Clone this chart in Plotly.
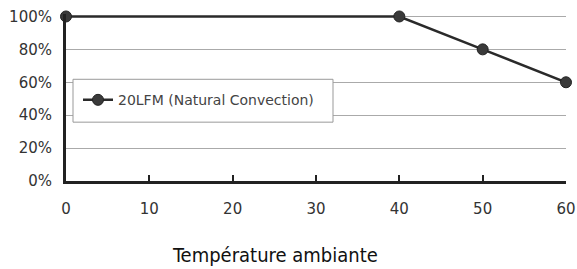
import plotly.graph_objects as go

temps = [0, 40, 50, 60]
derating = [100, 100, 80, 60]
series_name = "20LFM (Natural Convection)"
x_ticks = [0, 10, 20, 30, 40, 50, 60]
y_ticks = [0, 20, 40, 60, 80, 100]
y_tick_labels = ["0%", "20%", "40%", "60%", "80%", "100%"]
x_title = "Température ambiante"

fig = go.Figure()
fig.add_trace(go.Scatter(
    x=temps, y=derating, mode="lines+markers", name=series_name,
    line=dict(color="#2a2a2a", width=2.5),
    marker=dict(color="#3a3a3a", size=11, line=dict(color="#222", width=1)),
    cliponaxis=False,
))

W, H = 577, 269
Y_TOP = 101.5
x0_px, x1_px = 66, 566      # pixel of x=0 and x=60
y0_px, y100_px = 181, 16    # pixel of 0% and 100%
ppu = (y0_px - y100_px) / 100.0
ml = x0_px
mr = W - x1_px
mb = H - y0_px
mt = y0_px - ppu * Y_TOP
pw, ph = W - ml - mr, H - mt - mb

def px_x(x):
    return (x - ml) / pw

def px_y(y):
    return 1 - (y - mt) / ph

fig.update_layout(
    width=W, height=H,
    margin=dict(l=ml, r=mr, t=mt, b=mb, autoexpand=False),
    paper_bgcolor="white", plot_bgcolor="white",
    font=dict(family="DejaVu Sans, sans-serif", size=15, color="#333"),
    showlegend=True,
    legend=dict(
        x=px_x(78), y=px_y(100), xanchor="left", yanchor="middle",
        bgcolor="rgba(0,0,0,0)", borderwidth=0,
        font=dict(family="DejaVu Sans, sans-serif", size=14, color="#444"),
    ),
    shapes=[dict(
        type="rect", xref="paper", yref="paper", layer="above",
        x0=px_x(73), x1=px_x(333), y0=px_y(122), y1=px_y(79),
        fillcolor="white", line=dict(color="#999", width=1),
    )],
    xaxis=dict(
        range=[0, 60], tickvals=x_ticks, ticks="inside", ticklen=6, tickwidth=1.5,
        tickcolor="#222", showline=True, linecolor="#222", linewidth=3,
        showgrid=False, zeroline=False, tickfont=dict(size=15, color="#333"),
        ticklabelstandoff=12, automargin=False,
    ),
    yaxis=dict(
        range=[0, Y_TOP], tickvals=y_ticks, ticktext=y_tick_labels,
        showline=True, linecolor="#222", linewidth=3,
        showgrid=True, gridcolor="#aaa", gridwidth=1, zeroline=False,
        ticks="", tickfont=dict(size=15, color="#333"), automargin=False,
        ticklabelstandoff=8,
    ),
    annotations=[dict(
        text=x_title, xref="paper", yref="paper",
        x=px_x(275), y=px_y(255),
        xanchor="center", yanchor="middle", showarrow=False,
        font=dict(family="Liberation Sans Narrow, DejaVu Sans Condensed, sans-serif", size=20, color="#111"),
    )],
)
fig.write_html(
    "out.html",
    config={"displayModeBar": False},
    post_script="document.body.style.margin='0px';document.body.style.overflow='hidden';",
)
